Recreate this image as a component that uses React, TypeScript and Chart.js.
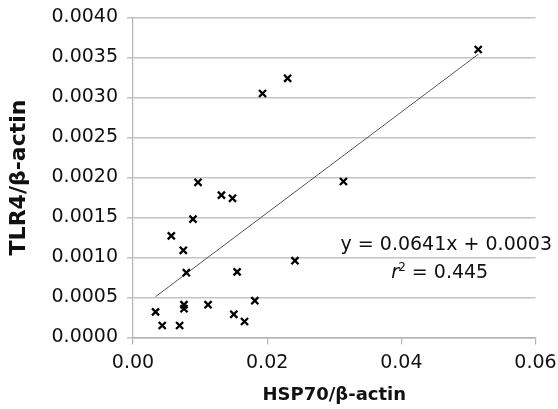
import React, { useEffect, useRef } from "react";
import { Chart, registerables } from "chart.js";

Chart.register(...registerables);

const hsp70: number[] = [
  0.00336, 0.00436, 0.00571, 0.00695, 0.0075, 0.0076, 0.0076, 0.00795, 0.00894,
  0.00969, 0.01119, 0.01318, 0.01483, 0.01503, 0.01552, 0.01662, 0.01816,
  0.01931, 0.02305, 0.02414, 0.03137, 0.05146,
];
const tlr4: number[] = [
  0.00032, 0.00015, 0.00127, 0.00015, 0.00109, 0.00041, 0.00036, 0.00081, 0.00148,
  0.00194, 0.00041, 0.00178, 0.00174, 0.00029, 0.00082, 0.0002, 0.00046,
  0.00305, 0.00324, 0.00096, 0.00195, 0.0036,
];
const trendX: number[] = [0.00336, 0.05146];
const trendY: number[] = [0.00051, 0.00354];

const xTitle = "HSP70/β-actin";
const yTitle = "TLR4/β-actin";
const equationText = "y = 0.0641x + 0.0003";
const r2Value = "0.445";

const FONT = "'DejaVu Sans', sans-serif";

const annotationPlugin = {
  id: "eqText",
  afterDatasetsDraw(chart: any) {
    const ctx = chart.ctx as CanvasRenderingContext2D;
    const xs = chart.scales.x;
    const ys = chart.scales.y;
    const cx = xs.getPixelForValue(0.0467);
    const y1 = ys.getPixelForValue(0.00116);
    const y2 = ys.getPixelForValue(0.00081);
    ctx.save();
    ctx.fillStyle = "#111111";
    ctx.textBaseline = "middle";
    ctx.font = `19px ${FONT}`;
    ctx.textAlign = "center";
    ctx.fillText(equationText, cx, y1);
    ctx.textAlign = "left";
    const fontR = `oblique 19px ${FONT}`;
    const fontSup = `12px ${FONT}`;
    const fontN = `19px ${FONT}`;
    ctx.font = fontR;
    const wr = ctx.measureText("r").width;
    ctx.font = fontSup;
    const ws = ctx.measureText("2").width;
    ctx.font = fontN;
    const rest = " = " + r2Value;
    const wn = ctx.measureText(rest).width;
    const total = wr + ws + wn;
    let x = cx - 6 - total / 2;
    ctx.font = fontR;
    ctx.fillText("r", x, y2);
    x += wr;
    ctx.font = fontSup;
    ctx.fillText("2", x - 1, y2 - 5);
    x += ws - 1;
    ctx.font = fontN;
    ctx.fillText(rest, x, y2);
    ctx.restore();
  },
};

export default function App() {
  const ref = useRef<HTMLCanvasElement | null>(null);
  useEffect(() => {
    if (!ref.current) return;
    const chart = new Chart(ref.current, {
      type: "scatter",
      data: {
        datasets: [
          {
            label: "trend",
            type: "line",
            data: trendX.map((x, i) => ({ x, y: trendY[i] })),
            borderColor: "#555555",
            borderWidth: 1,
            pointRadius: 0,
            fill: false,
            order: 2,
          } as any,
          {
            label: "data",
            data: hsp70.map((x, i) => ({ x, y: tlr4[i] })),
            pointStyle: "crossRot",
            pointRadius: 5,
            pointBorderWidth: 2.3,
            borderColor: "#000000",
            backgroundColor: "#000000",
            order: 1,
          } as any,
        ],
      },
      options: {
        animation: false,
        responsive: false,
        layout: { padding: { left: 0, top: 17.5, right: 22.5, bottom: 0 } },
        plugins: { legend: { display: false }, tooltip: { enabled: false } },
        scales: {
          x: {
            type: "linear",
            min: 0,
            max: 0.06,
            afterFit(scale: any) {
              scale.height = 71.5;
              scale.paddingLeft = 0;
              scale.paddingRight = 0;
            },
            ticks: {
              stepSize: 0.02,
              padding: 7,
              color: "#111111",
              font: { family: FONT, size: 19 },
              callback: (v: any) => Number(v).toFixed(2),
              maxRotation: 0,
            },
            grid: {
              drawOnChartArea: false,
              drawTicks: true,
              tickLength: 7,
              color: "#b4b4b4",
              lineWidth: 1.2,
            },
            border: { display: true, color: "#b4b4b4", width: 1.5 },
            title: {
              display: true,
              text: xTitle,
              color: "#111111",
              font: { family: FONT, size: 18, weight: "bold" },
              padding: { top: 0, bottom: 3 },
            },
          },
          y: {
            type: "linear",
            min: 0,
            max: 0.004,
            afterFit(scale: any) {
              scale.width = 133;
              scale.paddingTop = 0;
              scale.paddingBottom = 0;
            },
            ticks: {
              stepSize: 0.0005,
              padding: 9,
              color: "#111111",
              font: { family: FONT, size: 19 },
              callback: (v: any) => Number(v).toFixed(4),
            },
            grid: {
              drawTicks: true,
              tickLength: 6,
              color: "#c4c4c4",
              lineWidth: 1.5,
            },
            border: { display: true, color: "#b4b4b4", width: 1.2 },
            title: {
              display: true,
              text: yTitle,
              color: "#111111",
              font: { family: FONT, size: 22, weight: "bold" },
              padding: { top: 6, bottom: 0 },
            },
          },
        },
      },
      plugins: [annotationPlugin],
    });
    return () => chart.destroy();
  }, []);
  return (
    <div style={{ position: "absolute", left: 0, top: 0, width: 558, height: 409, background: "#fff" }}>
      <canvas ref={ref} width={558} height={409} style={{ display: "block" }} />
    </div>
  );
}
